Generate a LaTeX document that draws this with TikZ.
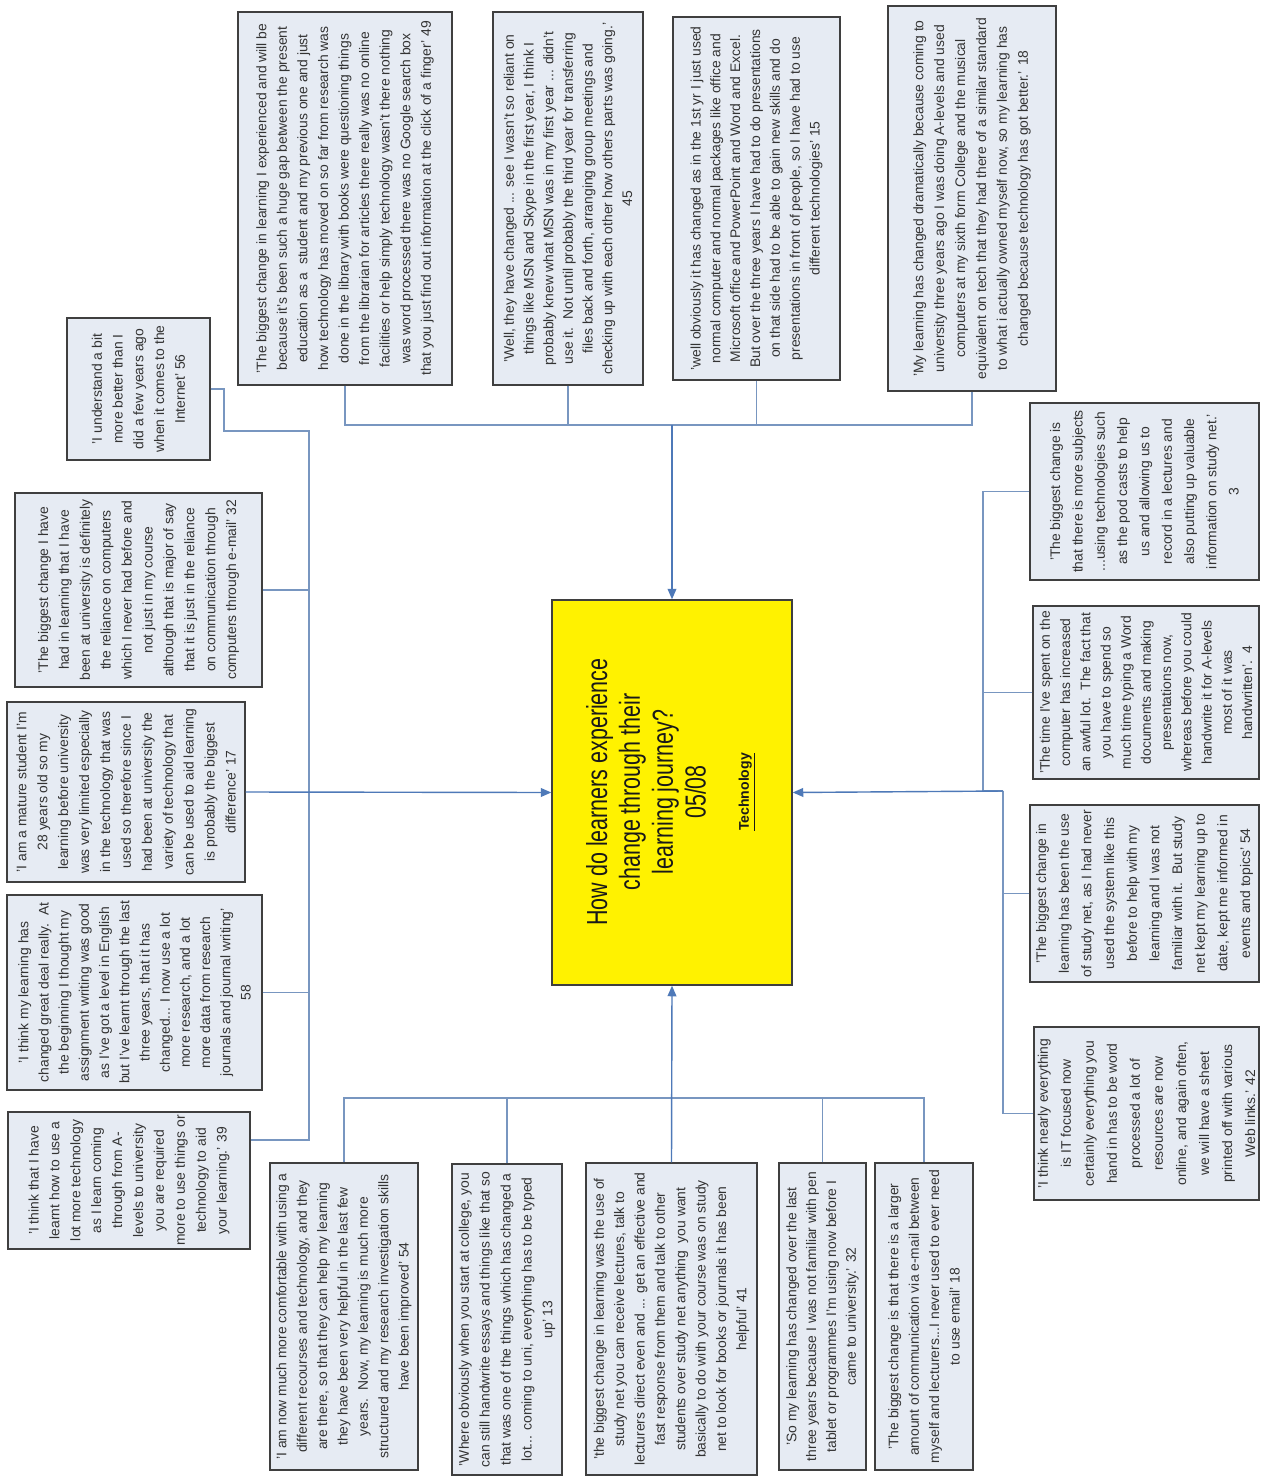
\documentclass[tikz,border=0pt]{standalone}
\usepackage{fontspec}
\setmainfont{Liberation Sans}
\newfontfamily\titlefont{Liberation Sans}[FakeStretch=0.74]
\usetikzlibrary{arrows.meta}
\definecolor{boxc}{HTML}{E6EBF3}
\definecolor{bordc}{HTML}{3F3F3F}
\definecolor{connc}{HTML}{7896C0}
\definecolor{arrc}{HTML}{4E79B8}
\definecolor{txtc}{HTML}{333333}
% name, x1, y1, x2, y2 (image px), line pitch (pt), text
\newcommand\qbox[7]{%
  \node[qbox, minimum width={(#5-#3)*0.02cm}, minimum height={(#4-#2)*0.02cm},
        font=\fontsize{7.9pt}{#6pt}\selectfont]
        (#1) at ({(#2+#4)/2},{(#3+#5)/2}) {#7};}
\begin{document}
\begin{tikzpicture}[x=0.02cm,y=-0.02cm,
  qbox/.style={draw=bordc, fill=boxc, line width=0.8pt, rotate=90, align=center,
               inner sep=1pt, text=txtc},
  conn/.style={draw=connc, line width=0.8pt},
  arr/.style={draw=arrc, line width=0.8pt, -{Triangle[length=6pt,width=5pt]}}]
\fill[white] (0,0) rectangle (1262,1477);
\useasboundingbox (0,0) rectangle (1262,1477);

% centre
\node[draw=bordc, fill=yellow, line width=0.8pt, minimum width={240*0.02cm},
      minimum height={385*0.02cm}, inner sep=0pt] (centre) at (672,792.5) {};
\node[rotate=90, align=center, inner sep=0pt, text=black!90,
      font=\titlefont\fontsize{16.5pt}{18.7pt}\selectfont] (title) at (646,792)
  {How do learners experience\\change through their\\learning journey?\\05/08};
\node[rotate=90, inner sep=0pt, text=black!90, font=\fontsize{8pt}{9pt}\selectfont\bfseries]
  (techlabel) at (747,792) {\underline{Technology}};

% top boxes
\qbox{b49}{238}{12}{452}{385}{11.7}{'The biggest change in learning I experienced and will be\\because it's been such a huge gap between the present\\education as a\ \ student and my previous one and just\\how technology has moved on so far from research was\\done in the library with books were questioning things\\from the librarian for articles there really was no online\\facilities or help simply technology wasn't there nothing\\was word processed there was no Google search box\\that you just find out information at the click of a finger' 49}
\qbox{b45}{493}{12}{643}{385}{11.2}{'Well, they have changed ... see I wasn't so reliant on\\things like MSN and Skype in the first year, I think I\\probably knew what MSN was in my first year ... didn't\\use it.\ \ Not until probably the third year for transferring\\files back and forth, arranging group meetings and\\checking up with each other how others parts was going.'\\45}
\qbox{b15}{673}{17}{840}{380}{11.3}{'well obviously it has changed as in the 1st yr I just used\\normal computer and normal packages like office and\\Microsoft office and PowerPoint and Word and Excel.\\But over the three years I have had to do presentations\\on that side had to be able to gain new skills and do\\presentations in front of people, so I have had to use\\different technologies' 15}
\qbox{b18t}{888}{6}{1056}{391}{11.9}{'My learning has changed dramatically because coming to\\university three years ago I was doing A-levels and used\\computers at my sixth form College and the musical\\equivalent on tech that they had there of a similar standard\\to what i actually owned myself now, so my learning has\\changed because technology has got better.' 18}

% left boxes
\qbox{b56}{67}{318}{210}{460}{11.8}{'I understand a bit\\more better than I\\did a few years ago\\when it comes to the\\Internet' 56}
\qbox{b32l}{15}{493}{262}{687}{11.9}{'The biggest change I have\\had in learning that I have\\been at university is definitely\\the reliance on computers\\which I never had before and\\not just in my course\\although that is major of say\\that it is just in the reliance\\on communication through\\computers through e-mail' 32}
\qbox{b17}{7}{702}{245}{882}{11.9}{'I am a mature student I'm\\28 years old so my\\learning before university\\was very limited especially\\in the technology that was\\used so therefore since I\\had been at university the\\variety of technology that\\can be used to aid learning\\is probably the biggest\\difference' 17}
\qbox{b58}{7}{895}{262}{1090}{11.5}{'I think my learning has\\changed great deal really.\ \ At\\the beginning I thought my\\assignment writing was good\\as I've got a level in English\\but I've learnt through the last\\three years, that it has\\changed... I now use a lot\\more research, and a lot\\more data from research\\journals and journal writing'\\58}
\qbox{b39}{8}{1112}{250}{1249}{11.9}{'I think that I have\\learnt how to use a\\lot more technology\\as I learn coming\\through from A-\\levels to university\\you are required\\more to use things or\\technology to aid\\your learning.' 39}

% bottom boxes
\qbox{b54b}{270}{1163}{418}{1470}{11.6}{'I am now much more comfortable with using a\\different recourses and technology, and they\\are there, so that they can help my learning\\they have been very helpful in the last few\\years.\ \ Now, my learning is much more\\structured and my research investigation skills\\have been improved' 54}
\qbox{b13}{452}{1164}{562}{1475}{11.9}{'Where obviously when you start at college, you\\can still handwrite essays and things like that so\\that was one of the things which has changed a\\lot... coming to uni, everything has to be typed\\up' 13}
\qbox{b41}{586}{1163}{757}{1475}{11.6}{'the biggest change in learning was the use of\\study net you can receive lectures, talk to\\lecturers direct even and ... get an effective and\\fast response from them and talk to other\\students over study net anything\ \ you want\\basically to do with your course was on study\\net to look for books or journals it has been\\helpful' 41}
\qbox{b32b}{779}{1163}{866}{1470}{11.3}{'So my learning has changed over the last\\three years because I was not familiar with pen\\tablet or programmes I'm using now before I\\came to university.' 32}
\qbox{b18b}{875}{1163}{973}{1470}{11.6}{'The biggest change is that there is a larger\\amount of communication via e-mail between\\myself and lecturers...I never used to ever need\\to use email' 18}

% right boxes
\qbox{b3}{1030}{403}{1259}{580}{12.7}{'The biggest change is\\that there is more subjects\\...using technologies such\\as the pod casts to help\\us and allowing us to\\record in a lectures and\\also putting up valuable\\information on study net.'\\3}
\qbox{b4}{1033}{606}{1259}{779}{11.5}{'The time I've spent on the\\computer has increased\\an awful lot.\ \ The fact that\\you have to spend so\\much time typing a Word\\documents and making\\presentations now,\\whereas before you could\\handwrite it for A-levels\\most of it was\\handwritten'.\ \ 4}
\qbox{b54r}{1030}{805}{1259}{982}{12.9}{'The biggest change in\\learning has been the use\\of study net, as I had never\\used the system like this\\before to help with my\\learning and I was not\\familiar with it.\ \ But study\\net kept my learning up to\\date, kept me informed in\\events and topics' 54}
\qbox{b42}{1034}{1027}{1259}{1200}{13.1}{'I think nearly everything\\is IT focused now\\certainly everything you\\hand in has to be word\\processed a lot of\\resources are now\\online, and again often,\\we will have a sheet\\printed off with various\\Web links.' 42}

% junction coordinates
\coordinate (tb) at (672,425);
\coordinate (bb) at (671,1098);
\coordinate (k1) at (224,431);
\coordinate (lt) at (309,431);
\coordinate (lb) at (309,1140);
\coordinate (ra) at (983,791);
\coordinate (rb) at (1003,791);

% top connectors
\draw[conn] (b49.west) -- (b49.west |- tb) -- (b18t.west |- tb) -- (b18t.west);
\draw[conn] (b45.west) -- (b45.west |- tb);
\draw[conn] (b15.west) -- (b15.west |- tb);
\draw[arr] (tb) -- (centre.north);

% left connectors
\draw[conn] (b56.south) -| (k1) -- (lt) -- (lb) -- (b39.south |- lb);
\draw[conn] (b32l.south) -- (b32l.south -| lt);
\draw[conn] (b58.south) -- (b58.south -| lt);
\draw[arr] (b17.south) -- (centre.west);

% bottom connectors
\draw[conn] (b54b.east) -- (b54b.east |- bb) -- (b18b.east |- bb) -- (b18b.east);
\draw[conn] (b13.east) -- (b13.east |- bb);
\draw[conn] (b32b.east) -- (b32b.east |- bb);
\draw[arr] (b41.east) -- (centre.south);

% right connectors
\draw[conn] (b3.north) -- (b3.north -| ra) -- (ra) -- (rb);
\draw[conn] (b4.north) -- (b4.north -| ra);
\draw[conn] (rb) -- (rb |- b42.north) -- (b42.north);
\draw[conn] (b54r.north) -- (b54r.north -| rb);
\draw[arr] (rb) -- (centre.east);
\end{tikzpicture}
\end{document}
